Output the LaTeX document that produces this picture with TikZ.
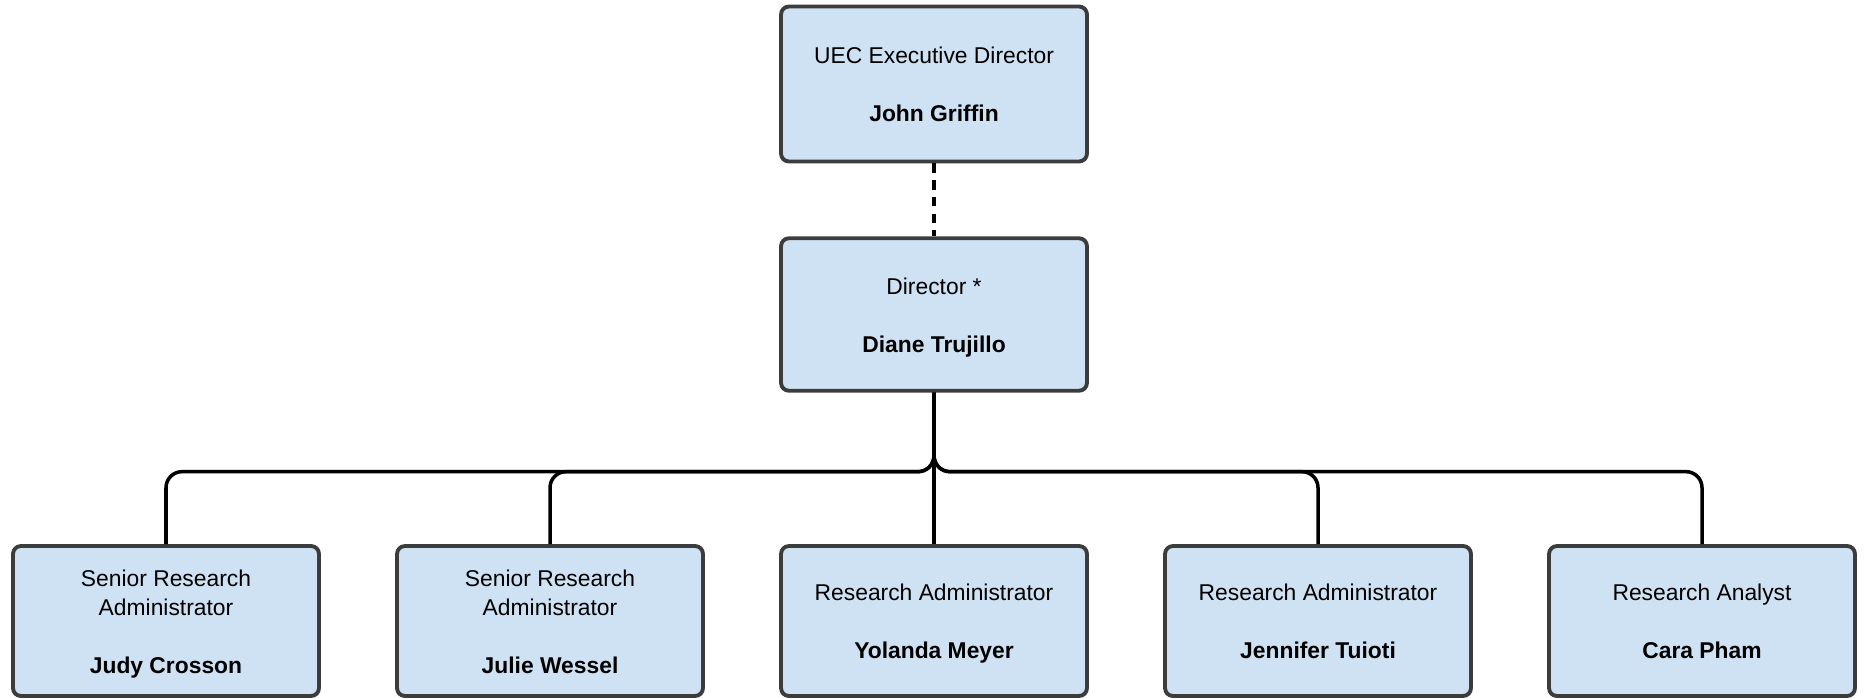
\documentclass[tikz,border=0pt]{standalone}
\usepackage{fontspec}
\setmainfont{Liberation Sans}
\usepackage{tikz}
\usetikzlibrary{positioning}
\definecolor{boxblue}{HTML}{CFE2F3}
\definecolor{boxline}{HTML}{3C3C3C}
\newcommand{\topstrut}{\rule{0pt}{13.5pt}}
\newcommand{\botstrut}{\rule[-3.5pt]{0pt}{3.5pt}}
\tikzset{
    person/.style={draw=boxline, fill=boxblue, line width=2.2pt, rounded corners=4.5pt,
        minimum width=6.12cm, inner sep=0pt, align=center,
        font=\fontsize{13}{16.4}\selectfont},
    link/.style={line width=2pt, rounded corners=0.32cm},
    dashlink/.style={line width=2pt, dash pattern=on 5.5pt off 4pt},
}

\begin{document}
\begin{tikzpicture}[x=0.02cm,y=-0.02cm]
    \useasboundingbox (0,0) rectangle (1865,698);
    % top
    \node[person, minimum height=3.1cm] (exec) at (934,84) {\topstrut UEC Executive Director\\[16.4pt]\textbf{John Griffin}\botstrut};
    \node[person, minimum height=3.05cm] (dir) at (934,314.5) {\topstrut Director *\\[16.4pt]\textbf{Diane Trujillo}\botstrut};
    % bottom row
    \node[person, minimum height=3.0cm] (judy) at (166,621) {\topstrut Senior Research\\Administrator\\[16.4pt]\textbf{Judy Crosson}\botstrut};
    \node[person, minimum height=3.0cm] (julie) at (550,621) {\topstrut Senior Research\\Administrator\\[16.4pt]\textbf{Julie Wessel}\botstrut};
    \node[person, minimum height=3.0cm] (yolanda) at (934,621) {\topstrut Research Administrator\\[16.4pt]\textbf{Yolanda Meyer}\botstrut};
    \node[person, minimum height=3.0cm] (jennifer) at (1318,621) {\topstrut Research Administrator\\[16.4pt]\textbf{Jennifer Tuioti}\botstrut};
    \node[person, minimum height=3.0cm] (cara) at (1702,621) {\topstrut Research Analyst\\[16.4pt]\textbf{Cara Pham}\botstrut};
    % connectors
    \draw[dashlink] (exec) -- (dir);
    \draw[link] (dir.south) -- ++(0,79) -| (judy.north);
    \draw[link] (dir.south) -- ++(0,79) -| (julie.north);
    \draw[link] (dir.south) -- (yolanda.north);
    \draw[link] (dir.south) -- ++(0,79) -| (jennifer.north);
    \draw[link] (dir.south) -- ++(0,79) -| (cara.north);
\end{tikzpicture}
\end{document}
